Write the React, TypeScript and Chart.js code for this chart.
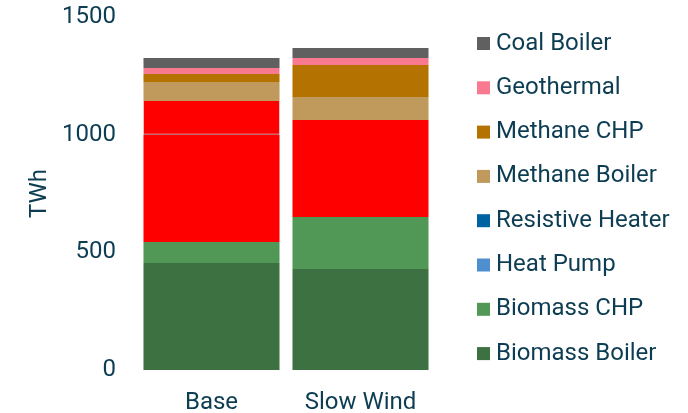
import React, { useEffect, useRef } from "react";
import { Chart, registerables } from "chart.js";

Chart.register(...registerables);

const categories = ["Base", "Slow Wind"];
const biomassBoiler = [455, 429];
const biomassCHP = [89, 221];
const heatPump = [0, 0];
const resistiveHeater = [0, 0];
const otherLower = [456, 412];
const otherUpper = [143, 0];
const methaneBoiler = [81, 98];
const methaneCHP = [34, 136];
const geothermal = [25, 30];
const coalBoiler = [43, 42];
const yTicks = [0, 500, 1000, 1500];

const TEXT = "#0d3d52";
const FONT = "Roboto";

const sideLegend = {
  id: "sideLegend",
  afterDraw(chart: any) {
    const { ctx, chartArea } = chart;
    const items = chart.data.datasets
      .map((d: any) => ({ label: d.label as string, color: d.backgroundColor as string }))
      .filter((it: any) => !it.label.startsWith("Other"))
      .reverse();
    const x0 = chartArea.right + 42;
    const step = 44.3;
    let y = chartArea.top + 26.5;
    ctx.save();
    ctx.font = `24px ${FONT}`;
    ctx.textBaseline = "middle";
    ctx.textAlign = "left";
    for (const it of items) {
      ctx.fillStyle = it.color;
      ctx.fillRect(x0, y - 6.5, 13, 13);
      ctx.fillStyle = TEXT;
      ctx.fillText(it.label, x0 + 19, y);
      y += step;
    }
    ctx.restore();
  },
};

export default function App() {
  const ref = useRef<HTMLCanvasElement | null>(null);
  useEffect(() => {
    document.body.style.margin = "0";
    const ctx = ref.current!;
    const ds = (label: string, data: number[], color: string, extra: any = {}) => ({
      label,
      data,
      backgroundColor: color,
      borderWidth: 0,
      ...extra,
    });
    const chart = new Chart(ctx, {
      type: "bar",
      data: {
        labels: categories,
        datasets: [
          ds("Biomass Boiler", biomassBoiler, "#3d7142"),
          ds("Biomass CHP", biomassCHP, "#519856"),
          ds("Heat Pump", heatPump, "#4f8fcf"),
          ds("Resistive Heater", resistiveHeater, "#0063a1"),
          ds("Other", otherLower, "#ff0000"),
          ds("Other 2", otherUpper, "#ff0000", {
            borderWidth: { bottom: 1, top: 0, left: 0, right: 0 },
            borderColor: "#7a3050",
            borderSkipped: false,
          }),
          ds("Methane Boiler", methaneBoiler, "#c09a5c"),
          ds("Methane CHP", methaneCHP, "#b47300"),
          ds("Geothermal", geothermal, "#f97a90"),
          ds("Coal Boiler", coalBoiler, "#606060"),
        ],
      },
      plugins: [sideLegend],
      options: {
        animation: false,
        responsive: false,
        maintainAspectRatio: false,
        layout: { padding: { top: 0, right: 253, left: 22, bottom: 0 } },
        datasets: { bar: { categoryPercentage: 1, barPercentage: 0.913 } },
        plugins: {
          tooltip: { enabled: false },
          legend: { display: false },
        },
        scales: {
          x: {
            stacked: true,
            grid: { display: false },
            border: { display: false },
            ticks: { color: TEXT, font: { family: FONT, size: 24 }, padding: 11 },
            afterFit: (axis: any) => {
              axis.height = 43;
              axis.paddingLeft = 0;
              axis.paddingRight = 0;
            },
          },
          y: {
            stacked: true,
            min: 0,
            max: 1500,
            grid: { display: false },
            border: { display: false },
            afterBuildTicks: (axis: any) => {
              axis.ticks = yTicks.map((v) => ({ value: v }));
            },
            afterFit: (axis: any) => {
              axis.width = 115;
              axis.paddingTop = 17;
              axis.paddingBottom = 0;
            },
            ticks: {
              color: TEXT,
              font: { family: FONT, size: 24 },
              padding: 13,
              callback: (v: any) => String(v),
            },
            title: {
              display: true,
              text: "TWh",
              color: TEXT,
              font: { family: FONT, size: 24 },
            },
          },
        },
      },
    });
    return () => chart.destroy();
  }, []);
  return (
    <div style={{ position: "fixed", left: 0, top: 0, width: 688, height: 413 }}>
      <canvas ref={ref} width={688} height={413} style={{ width: 688, height: 413 }} />
    </div>
  );
}
